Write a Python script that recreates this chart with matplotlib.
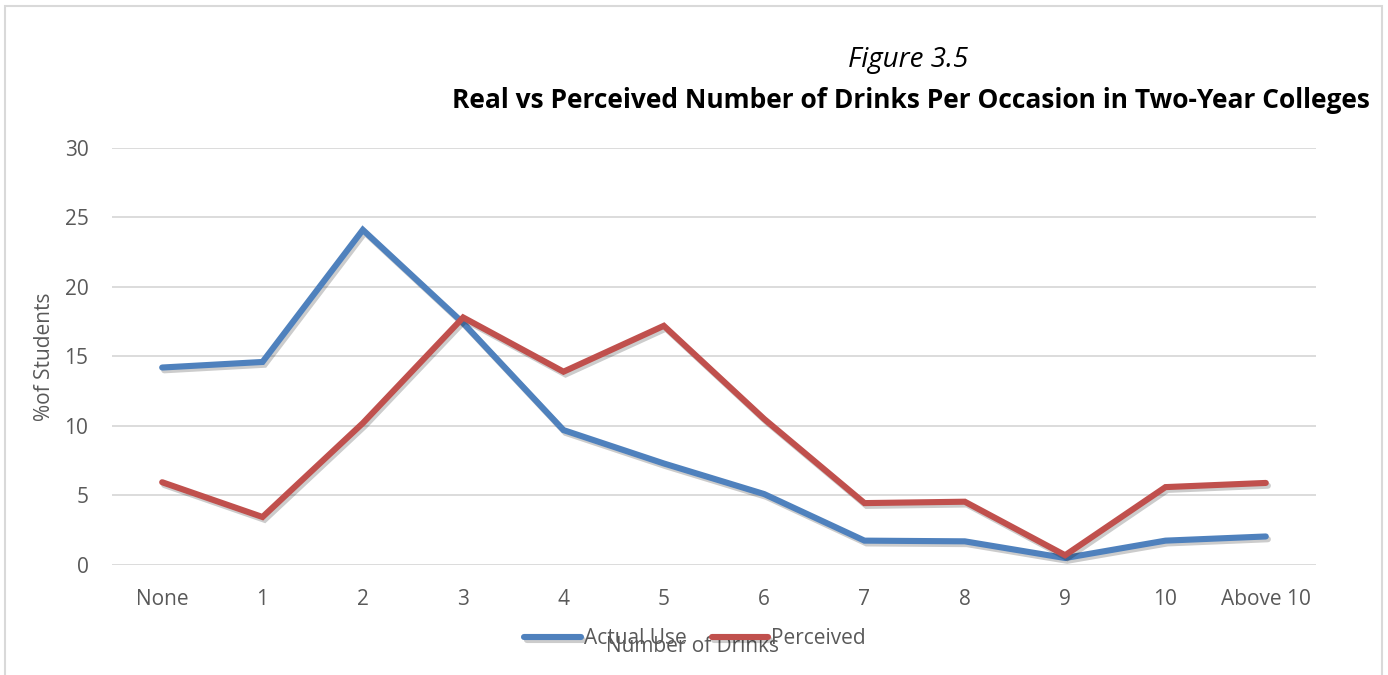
import matplotlib.pyplot as plt
import matplotlib.patheffects as pe
from matplotlib.patches import Rectangle

plt.rcParams['font.family'] = ['Open Sans', 'DejaVu Sans']

# Data
categories = ['None', '1', '2', '3', '4', '5', '6', '7', '8', '9', '10', 'Above 10']
actual_use = [14.2, 14.6, 24.1, 17.4, 9.7, 7.3, 5.1, 1.75, 1.7, 0.5, 1.75, 2.05]
perceived = [5.95, 3.45, 10.2, 17.8, 13.9, 17.2, 10.5, 4.45, 4.55, 0.7, 5.6, 5.9]

blue = '#4F81BD'
red = '#C0504D'
grid_col = '#D9D9D9'
text_col = '#595959'

fig = plt.figure(figsize=(13.88, 6.75), dpi=100)
ax = fig.add_axes([0.0807, 0.163, 0.8674, 0.618])

x = range(len(categories))
shadow = [pe.SimpleLineShadow(offset=(1.5, -2), alpha=0.2, shadow_color='black'), pe.Normal()]
ax.plot(x, actual_use, color=blue, lw=4.4, solid_capstyle='round',
        solid_joinstyle='miter', label='Actual Use', path_effects=shadow, zorder=3)
ax.plot(x, perceived, color=red, lw=4.4, solid_capstyle='round',
        solid_joinstyle='miter', label='Perceived', path_effects=shadow, zorder=3)

ax.set_xlim(-0.5, len(categories) - 0.5)
ax.set_ylim(0, 30)
ax.set_yticks(range(0, 31, 5))
ax.set_xticks(list(x))
ax.set_xticklabels(categories)
ax.grid(axis='y', color=grid_col, lw=1.3)
ax.set_axisbelow(True)
for s in ax.spines.values():
    s.set_visible(False)
ax.tick_params(length=0, labelsize=15, labelcolor=text_col)
ax.tick_params(axis='x', pad=17)
ax.tick_params(axis='y', pad=17)

fig.text(45 / 1388, 1 - 357 / 675, '%of Students', rotation=90, ha='center', va='center',
         fontsize=15, color=text_col)
fig.text(693 / 1388, 1 - 646 / 675, 'Number of Drinks', ha='center', va='center',
         fontsize=15, color=text_col)

fig.legend(loc='center', bbox_to_anchor=(695 / 1388, 1 - 639 / 675), ncol=2, frameon=False,
           fontsize=15, handlelength=2.7, handletextpad=0.15, columnspacing=1.2,
           labelcolor=text_col)

fig.text(908 / 1388, 1 - 60 / 675, 'Figure 3.5', style='italic', ha='center', va='center',
         fontsize=20)
fig.text(1370 / 1388, 1 - 101 / 675, 'Real vs Perceived Number of Drinks Per Occasion in Two-Year Colleges',
         fontweight='bold', ha='right', va='center', fontsize=19)

# light frame around the chart
fig.patches.append(Rectangle((4.5 / 1388, -0.05), 1377 / 1388, 1.05 - 6 / 675,
                             transform=fig.transFigure, fill=False, edgecolor=grid_col, lw=1.5))

fig.savefig('out.png', dpi=100)
